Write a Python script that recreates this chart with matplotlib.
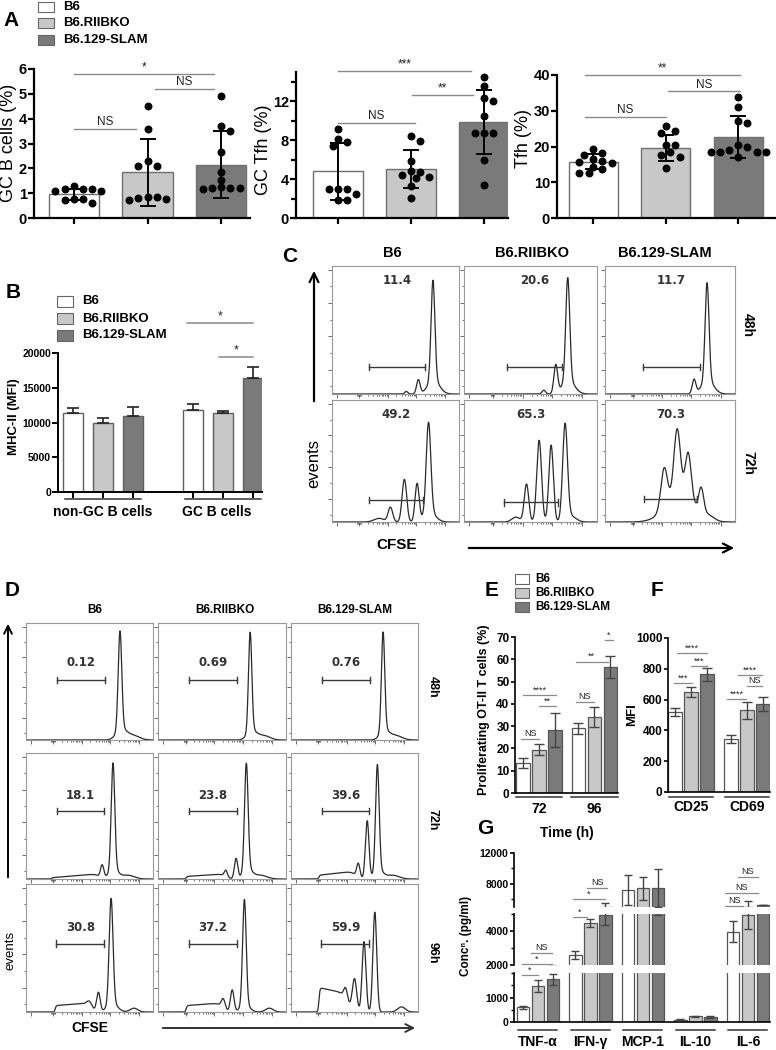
import numpy as np
import matplotlib
matplotlib.use('Agg')
import matplotlib.pyplot as plt
from matplotlib.patches import Rectangle

plt.rcParams['font.family'] = ['Liberation Sans', 'DejaVu Sans']

# ===================== DATA =====================
strains = ['B6', 'B6.RIIBKO', 'B6.129-SLAM']
strain_colors = ['#ffffff', '#c8c8c8', '#7a7a7a']

# ---- Panel A ----
gcb_mean = [0.95, 1.85, 2.15]
gcb_sd = [0.23, 1.35, 1.35]
gcb_points = [[1.27, 1.16, 1.17, 1.15, 1.10, 1.10, 0.78, 0.78, 0.72, 0.60],
              [4.50, 3.60, 2.29, 2.08, 2.08, 0.86, 0.86, 0.79, 0.76, 0.72],
              [4.93, 3.72, 3.52, 2.66, 1.87, 1.53, 1.23, 1.20, 1.20, 1.20, 1.15]]
gcb_sig = [(0.0, 1.9, 5.8, '*'), (1.1, 1.9, 5.2, 'NS'), (0.0, 0.85, 3.6, 'NS')]

gctfh_mean = [4.8, 5.05, 9.9]
gctfh_sd = [2.9, 1.95, 3.3]
gctfh_points = [[9.1, 8.1, 7.8, 7.4, 3.0, 3.0, 3.0, 2.5, 1.85, 1.85],
                [8.4, 7.9, 5.9, 4.8, 4.75, 4.4, 4.2, 4.1, 3.3, 2.1],
                [14.5, 13.6, 12.3, 12.0, 10.5, 8.7, 8.7, 8.7, 6.0, 3.4]]
gctfh_sig = [(0.0, 1.82, 15.1, '***'), (1.01, 1.85, 12.6, '**'), (0.0, 1.05, 9.8, 'NS')]

tfh_mean = [15.8, 19.6, 22.7]
tfh_sd = [2.05, 3.6, 5.9]
tfh_points = [[19.3, 18.1, 17.7, 16.6, 16.0, 15.8, 15.5, 14.4, 13.7, 12.7, 12.6],
              [25.6, 24.2, 23.9, 20.5, 20.3, 18.6, 17.7, 17.2, 14.0],
              [33.8, 31.0, 27.0, 26.7, 20.3, 20.0, 19.1, 18.6, 18.6, 18.6, 18.4, 17.2]]
tfh_sig = [(-0.11, 2.03, 39.9, '**'), (1.03, 2.03, 35.4, 'NS'), (-0.11, 1.0, 28.2, 'NS')]

# ---- Panel B ----
mhc_groups = ['non-GC B cells', 'GC B cells']
mhc_mean = [[11300, 10000, 10950], [11750, 11300, 16400]]
mhc_err = [[750, 700, 1250], [900, 300, 1600]]
mhc_sig = [(3.8, 6.0, 24300, '*'), (4.87, 6.0, 19400, '*')]

# ---- Panel C (CFSE histograms, peaks: centre, height, width) ----
C_times = ['48h', '72h']
C_numbers = [['11.4', '20.6', '11.7'], ['49.2', '65.3', '70.3']]
C_gates = [[(0.29, 0.73, 0.21), (0.32, 0.74, 0.21), (0.29, 0.73, 0.21)],
           [(0.29, 0.72, 0.18), (0.30, 0.71, 0.16), (0.30, 0.71, 0.19)]]
C_peaks = [[[(0.795, 0.78, 0.015), (0.80, 0.11, 0.045), (0.68, 0.11, 0.014), (0.585, 0.02, 0.012)],
            [(0.78, 0.80, 0.015), (0.785, 0.11, 0.045), (0.69, 0.22, 0.014), (0.60, 0.03, 0.013)],
            [(0.785, 0.76, 0.015), (0.79, 0.11, 0.045), (0.685, 0.11, 0.014)]],
           [[(0.76, 0.74, 0.018), (0.77, 0.08, 0.045), (0.67, 0.31, 0.016), (0.57, 0.35, 0.018),
             (0.46, 0.12, 0.018), (0.37, 0.03, 0.04)],
            [(0.76, 0.78, 0.018), (0.655, 0.63, 0.017), (0.565, 0.67, 0.018), (0.47, 0.31, 0.017),
             (0.39, 0.04, 0.03), (0.80, 0.05, 0.04)],
            [(0.555, 0.55, 0.025), (0.455, 0.33, 0.025), (0.64, 0.38, 0.023), (0.74, 0.20, 0.019),
             (0.58, 0.22, 0.11), (0.80, 0.03, 0.04)]]]
C_plateaus = [[None, None, None], [None, None, None]]

# ---- Panel D ----
D_times = ['48h', '72h', '96h']
D_numbers = [['0.12', '0.69', '0.76'], ['18.1', '23.8', '39.6'], ['30.8', '37.2', '59.9']]
D_gates = [[(0.245, 0.62, 0.51)] * 3, [(0.245, 0.615, 0.54)] * 3, [(0.24, 0.615, 0.535)] * 3]
D_peaks = [[[(0.74, 0.84, 0.014), (0.75, 0.09, 0.04), (0.84, 0.04, 0.05)],
            [(0.72, 0.84, 0.013), (0.73, 0.08, 0.035), (0.82, 0.04, 0.05)],
            [(0.725, 0.84, 0.013), (0.735, 0.08, 0.035), (0.82, 0.04, 0.05)]],
           [[(0.685, 0.84, 0.014), (0.69, 0.08, 0.035), (0.60, 0.10, 0.013), (0.80, 0.03, 0.05)],
            [(0.69, 0.84, 0.014), (0.70, 0.08, 0.035), (0.61, 0.16, 0.013), (0.53, 0.05, 0.012),
             (0.80, 0.03, 0.05)],
            [(0.68, 0.84, 0.014), (0.69, 0.07, 0.035), (0.60, 0.46, 0.014), (0.53, 0.11, 0.013),
             (0.80, 0.03, 0.05)]],
           [[(0.67, 0.82, 0.015), (0.68, 0.07, 0.04), (0.57, 0.15, 0.014), (0.50, 0.04, 0.02),
             (0.85, 0.03, 0.03)],
            [(0.675, 0.82, 0.014), (0.68, 0.06, 0.035), (0.58, 0.17, 0.014), (0.51, 0.07, 0.014),
             (0.87, 0.03, 0.03)],
            [(0.66, 0.78, 0.015), (0.575, 0.55, 0.015), (0.50, 0.25, 0.017), (0.43, 0.08, 0.014),
             (0.87, 0.04, 0.03)]]]
D_plateaus = [[None, None, None],
              [(0.2, 0.55, 0.01, 0.04), (0.22, 0.5, 0.02, 0.04), (0.22, 0.48, 0.03, 0.06)],
              [(0.23, 0.48, 0.05, 0.07), (0.22, 0.48, 0.05, 0.07), (0.22, 0.42, 0.19, 0.15)]]

# ---- Panel E ----
time_groups = ['72', '96']
prolif_mean = [[13.5, 19.5, 28.3], [29.0, 34.0, 56.5]]
prolif_err = [[2.3, 2.5, 7.7], [2.5, 4.5, 4.8]]
prolif_sig = [(-0.12, 1.0, 24.2, 'NS'), (0.0, 2.06, 44, '****'), (1.0, 2.06, 39, '**'),
              (3.3, 4.44, 41, 'NS'), (3.3, 5.3, 59, '**'), (5.1, 5.6, 68.6, '*')]

# ---- Panel F ----
markers = ['CD25', 'CD69']
mfi_mean = [[520, 648, 765], [345, 532, 572]]
mfi_err = [[25, 32, 42], [25, 55, 45]]
mfi_sig = [(-0.06, 1.06, 708, '***'), (0.12, 2.0, 903, '****'), (1.0, 2.0, 818, '***'),
           (3.25, 4.44, 604, '****'), (3.94, 5.44, 760, '****'), (4.5, 5.44, 688, 'NS')]

# ---- Panel G ----
cytokines = ['TNF-\u03b1', 'IFN-\u03b3', 'MCP-1', 'IL-10', 'IL-6']
cyt_b6 = [600, 2600, 7200, 100, 3960]
cyt_b6_err = [50, 230, 2000, 15, 600]
cyt_ko = [1470, 4470, 7450, 230, 4940]
cyt_ko_err = [230, 250, 1500, 20, 850]
cyt_slam = [1750, 4940, 7450, 210, 5270]
cyt_slam_err = [220, 600, 2500, 30, 30]
cyt_sig = [(-0.07, 1.0, 1918, '*'), (-0.07, 1.93, 2060, '*'), (0.53, 1.93, 2700, 'NS'),
           (3.33, 4.27, 4820, '*'), (3.33, 5.47, 6030, '*'), (4.27, 5.6, 7450, 'NS'),
           (13.47, 14.67, 5190, 'NS'), (13.47, 15.67, 6800, 'NS'), (14.33, 15.67, 8870, 'NS')]

# ===================== FIGURE =====================
W, H = 776, 1050
fig = plt.figure(figsize=(W / 100, H / 100), dpi=100)


def axpx(l, t, r, b):
    return fig.add_axes([l / W, 1 - b / H, (r - l) / W, (b - t) / H])


def bold_ticks(ax, ticks, fs, fmt='{:g}'):
    ax.set_yticks(ticks, [fmt.format(v) for v in ticks], fontweight='bold', fontsize=fs)


def sig(ax, x0, x1, y, txt, fs, lw=1.0):
    ax.plot([x0, x1], [y, y], color='#8a8a8a', lw=lw, clip_on=False, zorder=5)
    ax.annotate(txt, xy=((x0 + x1) / 2, y), xytext=(0, 0.5), textcoords='offset points',
                ha='center', va='bottom', fontsize=fs, annotation_clip=False, color='#222')


def swarm(vals, ppu_y, ppu_x, d=7.4):
    placed, offs = [], []
    cands = [0.0]
    for i in range(1, 20):
        cands += [i * d * 0.62, -i * d * 0.62]
    for v in vals:
        yv = v * ppu_y
        for c in cands:
            if all((c - px) ** 2 + (yv - py) ** 2 >= d * d for px, py in placed):
                break
        placed.append((c, yv))
        offs.append(c / ppu_x)
    return offs


def style_bar(ax, lw):
    for s in ['top', 'right']:
        ax.spines[s].set_visible(False)
    ax.spines['left'].set_linewidth(lw)
    ax.spines['bottom'].set_linewidth(lw)


# ---------- Panel A ----------
A_specs = [
    ((34, 69, 250, 218), (-0.54, 2.39), (0, 6), list(range(0, 7)), [], gcb_mean, gcb_sd, gcb_points, gcb_sig),
    ((296, 72, 508, 218), (-0.575, 2.33), (0, 15), [0, 4, 8, 12], [2, 6, 10, 14], gctfh_mean, gctfh_sd,
     gctfh_points, gctfh_sig),
    ((557, 75, 776, 218), (-0.5, 2.52), (0, 40), [0, 10, 20, 30, 40], [], tfh_mean, tfh_sd, tfh_points, tfh_sig),
]
for (box, xl, yl, yt, ymin, mean, sd, pts, sg) in A_specs:
    ax = axpx(*box)
    x = np.arange(3)
    ax.bar(x, mean, width=0.68, color=strain_colors, edgecolor='#707070', linewidth=1.0, zorder=2)
    ax.errorbar(x, mean, yerr=sd, fmt='none', ecolor='black', elinewidth=1.4, capsize=5.5,
                capthick=1.4, zorder=3)
    ppu_y = (box[3] - box[1]) / (yl[1] - yl[0])
    ppu_x = (box[2] - box[0]) / (xl[1] - xl[0])
    for i, p in enumerate(pts):
        o = swarm(p, ppu_y, ppu_x)
        ax.plot(i + np.array(o), p, 'o', color='black', ms=4.7, zorder=4, clip_on=False)
    ax.set_xlim(*xl)
    ax.set_ylim(*yl)
    style_bar(ax, 1.6)
    bold_ticks(ax, yt, 10.5)
    ax.set_yticks(ymin, minor=True)
    ax.set_xticks(x, ['', '', ''])
    ax.tick_params(axis='both', which='major', length=4, width=1.6, pad=1)
    ax.tick_params(axis='y', which='minor', length=3.5, width=1.6)
    for (x0, x1, y, t) in sg:
        sig(ax, x0, x1, y, t, 8.5)

# ---------- Panel B ----------
axB = axpx(58, 353, 262, 492)
posB = [np.arange(3), np.arange(3) + 4]
for g in range(2):
    axB.bar(posB[g], mhc_mean[g], width=0.67, color=strain_colors, edgecolor='#606060', lw=1.0, zorder=2)
    axB.errorbar(posB[g], mhc_mean[g], yerr=[[0, 0, 0], mhc_err[g]], fmt='none', ecolor='#222',
                 elinewidth=1.2, capsize=4, capthick=1.2, zorder=3)
axB.set_xlim(-0.5, 6.3)
axB.set_ylim(0, 20000)
style_bar(axB, 1.4)
bold_ticks(axB, [0, 5000, 10000, 15000, 20000], 7.5)
axB.set_xticks(np.concatenate(posB), [''] * 6)
axB.tick_params(axis='both', length=4, width=1.4, pad=1)
for g in range(2):
    c = posB[g].mean()
    axB.plot([c - 1.28, c + 1.28], [-0.05, -0.05], color='#333', lw=1.1,
             transform=axB.get_xaxis_transform(), clip_on=False)
    axB.text(c + (0 if g == 0 else -0.2), -0.145, mhc_groups[g], ha='center', va='center',
             fontsize=10, fontweight='bold', transform=axB.get_xaxis_transform())
for (x0, x1, y, t) in mhc_sig:
    sig(axB, x0, x1, y, t, 9, lw=1.1)


# ---------- Histogram helper ----------
def draw_hist(box, peaks, plateau, gate, number, ny):
    ax = axpx(*box)
    xs = np.linspace(0, 1, 900)
    ys = np.zeros_like(xs)
    for c, h, s in peaks:
        ys += h * np.exp(-0.5 * ((xs - c) / s) ** 2)
    if plateau is not None:
        x0, x1, h0, h1 = plateau
        ramp = h0 + (h1 - h0) * np.clip((xs - x0) / (x1 - x0), 0, 1)
        win = 1 / (1 + np.exp(-(xs - x0) / 0.004)) / (1 + np.exp(-(x1 + 0.03 - xs) / 0.02))
        ys += ramp * win
    ax.plot(xs, ys, color='#2a2a2a', lw=0.9)
    ax.set_xlim(0, 1)
    ax.set_ylim(0, 1)
    for s in ax.spines.values():
        s.set_color('#9a9a9a')
        s.set_linewidth(0.8)
    g0, g1, gy = gate
    ax.plot([g0, g1], [gy, gy], color='#3a3a3a', lw=1.0)
    for gx in (g0, g1):
        ax.plot([gx, gx], [gy - 0.025, gy + 0.025], color='#3a3a3a', lw=1.0)
    ax.text((g0 + g1) / 2, ny, number, ha='center', va='center', fontsize=8.5,
            family='DejaVu Sans', fontweight='bold', color='#333')
    majx = [0.04, 0.215, 0.44, 0.665, 0.89]
    minx = []
    for d in majx[1:-1]:
        minx += [d + 0.225 * np.log10(k) for k in range(2, 10)]
    minx += [0.2, 0.205, 0.21, 0.22, 0.225]
    majy = [0.19, 0.45, 0.71, 0.966]
    miny = [0.06, 0.32, 0.58, 0.84]
    ax.set_xticks(majx)
    ax.set_xticks(minx, minor=True)
    ax.set_yticks(majy)
    ax.set_yticks(miny, minor=True)
    ax.tick_params(which='both', direction='out', color='#555', width=0.6,
                   labelleft=False, labelbottom=False)
    ax.tick_params(which='major', length=3)
    ax.tick_params(which='minor', length=1.6)
    return ax


C_cols = [(332, 459), (464, 597), (605, 735)]
C_rows = [(266, 394), (400, 522)]
for r in range(2):
    for c in range(3):
        draw_hist((C_cols[c][0], C_rows[r][0], C_cols[c][1], C_rows[r][1]),
                  C_peaks[r][c], C_plateaus[r][c], C_gates[r][c], C_numbers[r][c], 0.885)

D_cols = [(26, 153), (158, 286), (291, 418)]
D_rows = [(623, 740), (753, 879), (884, 1012)]
for r in range(3):
    for c in range(3):
        draw_hist((D_cols[c][0], D_rows[r][0], D_cols[c][1], D_rows[r][1]),
                  D_peaks[r][c], D_plateaus[r][c], D_gates[r][c], D_numbers[r][c], 0.66)

# ---------- Panel E ----------
axE = axpx(515, 637, 618, 793)
posE = [np.arange(3), np.arange(3) + 3.47]
for g in range(2):
    axE.bar(posE[g], prolif_mean[g], width=0.85, color=strain_colors, edgecolor='#555', lw=0.9, zorder=2)
    axE.errorbar(posE[g], prolif_mean[g], yerr=prolif_err[g], fmt='none', ecolor='#444',
                 elinewidth=1.0, capsize=3.5, capthick=1.0, zorder=3)
axE.set_xlim(-0.5, 5.94)
axE.set_ylim(0, 70)
style_bar(axE, 1.2)
bold_ticks(axE, list(range(0, 80, 10)), 8.5)
axE.set_xticks([])
axE.tick_params(axis='y', length=3, width=1.2, pad=1)
for g in range(2):
    c = posE[g].mean()
    axE.plot([c - 1.44, c + 1.44], [-0.026, -0.026], color='#333', lw=1.1,
             transform=axE.get_xaxis_transform(), clip_on=False)
    axE.text(c, -0.105, time_groups[g], ha='center', va='center', fontsize=10, fontweight='bold',
             transform=axE.get_xaxis_transform())
for (x0, x1, y, t) in prolif_sig:
    sig(axE, x0, x1, y, t, 6.5, lw=0.9)

# ---------- Panel F ----------
axF = axpx(668, 638, 770, 792)
posF = [np.arange(3), np.arange(3) + 3.5]
for g in range(2):
    axF.bar(posF[g], mfi_mean[g], width=0.85, color=strain_colors, edgecolor='#555', lw=0.9, zorder=2)
    axF.errorbar(posF[g], mfi_mean[g], yerr=mfi_err[g], fmt='none', ecolor='#444',
                 elinewidth=1.0, capsize=3.5, capthick=1.0, zorder=3)
axF.set_xlim(-0.44, 5.94)
axF.set_ylim(0, 1000)
style_bar(axF, 1.2)
bold_ticks(axF, list(range(0, 1200, 200)), 8.5)
axF.set_xticks([])
axF.tick_params(axis='y', length=3, width=1.2, pad=1)
for g in range(2):
    c = posF[g].mean()
    axF.plot([c - 1.4, c + 1.4], [-0.032, -0.032], color='#333', lw=1.1,
             transform=axF.get_xaxis_transform(), clip_on=False)
    axF.text(c, -0.1, markers[g], ha='center', va='center', fontsize=10, fontweight='bold',
             transform=axF.get_xaxis_transform())
for (x0, x1, y, t) in mfi_sig:
    sig(axF, x0, x1, y, t, 6.5, lw=0.9)

# ---------- Panel G (broken axis) ----------
G_boxes = [(514, 973, 770, 1022), (514, 914, 770, 965), (514, 853, 770, 907)]
G_ranges = [(0, 2000), (2000, 5000), (5000, 12000)]
G_major = [[0, 1000], [2000, 4000], [8000, 12000]]
G_minor = [[500, 1500, 2000], [3000, 5000], [6000, 10000]]
posG = np.arange(5) * 3.5
series = [(cyt_b6, cyt_b6_err), (cyt_ko, cyt_ko_err), (cyt_slam, cyt_slam_err)]
G_axes = []
for k in range(3):
    ax = axpx(*G_boxes[k])
    for j, (vals, errs) in enumerate(series):
        ax.bar(posG + j, vals, width=0.85, color=strain_colors[j], edgecolor='#555', lw=0.9, zorder=2)
        ax.errorbar(posG + j, vals, yerr=errs, fmt='none', ecolor='#444', elinewidth=1.0,
                    capsize=3, capthick=1.0, zorder=3)
    ax.set_xlim(-0.6, 16.47)
    ax.set_ylim(*G_ranges[k])
    for s in ['top', 'right']:
        ax.spines[s].set_visible(False)
    ax.spines['left'].set_linewidth(1.2)
    if k == 0:
        ax.spines['bottom'].set_linewidth(1.2)
    else:
        ax.spines['bottom'].set_visible(False)
    bold_ticks(ax, G_major[k], 7.5)
    ax.set_yticks(G_minor[k], minor=True)
    ax.set_xticks([])
    ax.tick_params(axis='y', which='major', length=3, width=1.2, pad=1)
    ax.tick_params(axis='y', which='minor', length=2, width=1.0)
    G_axes.append(ax)
axG = G_axes[0]
for g in range(5):
    c = posG[g] + 1
    axG.plot([c - 1.3, c + 1.3], [-0.163, -0.163], color='#333', lw=1.1,
             transform=axG.get_xaxis_transform(), clip_on=False)
    axG.text(c, -0.41, cytokines[g], ha='center', va='center', fontsize=10, fontweight='bold',
             transform=axG.get_xaxis_transform())
for (x0, x1, y, t) in cyt_sig:
    k = 0 if y <= 2000 else (1 if y <= 5000 else 2)
    sig(G_axes[k], x0, x1, y, t, 6.5, lw=0.9)

# ---------- Overlay: labels, legends, arrows ----------
ov = axpx(0, 0, W, H)
ov.set_xlim(0, W)
ov.set_ylim(H, 0)
ov.axis('off')
ov.patch.set_alpha(0)


def txt(x, y, s, **kw):
    kw.setdefault('ha', 'center')
    kw.setdefault('va', 'center')
    ov.text(x, y, s, **kw)


for lab, (x, y) in zip('ABCDEFG', [(11, 20), (13, 293), (290, 257), (12, 591), (492, 591), (657, 591),
                                   (485, 828)]):
    txt(x, y, lab, fontsize=15, fontweight='bold')


def legend(x, ys, w, h, tx, fs):
    for y, col, s in zip(ys, strain_colors, strains):
        ov.add_patch(Rectangle((x, y - h / 2), w, h, facecolor=col, edgecolor='#666', lw=0.8))
        ov.text(tx, y, s, ha='left', va='center', fontsize=fs, fontweight='bold')


legend(38, [7, 23, 40], 16, 10, 63, 9.5)
legend(57, [301.5, 318.5, 335.5], 16, 11, 82, 9.5)
legend(515, [579, 593, 607], 14, 10, 535, 8.5)

# axis titles
txt(9, 143, 'GC B cells (%)', rotation=90, fontsize=13)
txt(264, 150, 'GC Tfh (%)', rotation=90, fontsize=13)
txt(524, 139, 'Tfh (%)', rotation=90, fontsize=13)
txt(14, 417, 'MHC-II (MFI)', rotation=90, fontsize=9.5, fontweight='bold')
txt(484, 710, 'Proliferating OT-II T cells (%)', rotation=90, fontsize=9, fontweight='bold')
txt(567, 833, 'Time (h)', fontsize=10, fontweight='bold')
txt(632, 715, 'MFI', rotation=90, fontsize=9.5, fontweight='bold')
txt(466, 936, 'Conc\u207f. (pg/ml)', rotation=90, fontsize=8.5, fontweight='bold')

# Panel C titles
for s, x in zip(strains, [392, 532, 665]):
    txt(x, 253, s, fontsize=10.5, fontweight='bold')
for s, y in zip(C_times, [325, 463]):
    txt(748, y, s, rotation=-90, fontsize=10, fontweight='bold')
ov.annotate('', xy=(314, 268), xytext=(314, 404),
            arrowprops=dict(arrowstyle='->', lw=1.6, color='black', mutation_scale=16))
txt(314, 463, 'events', rotation=90, fontsize=12)
txt(397, 545, 'CFSE', fontsize=11, fontweight='bold')
ov.annotate('', xy=(737, 548), xytext=(466, 548),
            arrowprops=dict(arrowstyle='->', lw=1.6, color='black', mutation_scale=16))

# Panel D titles
for s, x in zip(strains, [95, 225, 355]):
    txt(x, 610, s, fontsize=8.5, fontweight='bold')
for s, y in zip(D_times, [687, 820, 953]):
    txt(433, y, s, rotation=-90, fontsize=9, fontweight='bold')
ov.annotate('', xy=(8, 621), xytext=(8, 880),
            arrowprops=dict(arrowstyle='->', lw=1.4, color='black', mutation_scale=14))
txt(10, 950, 'events', rotation=90, fontsize=9.5)
txt(90, 1028, 'CFSE', fontsize=10, fontweight='bold')
ov.annotate('', xy=(418, 1028), xytext=(160, 1028),
            arrowprops=dict(arrowstyle='->', lw=1.4, color='#333', mutation_scale=14))

fig.savefig('out.png', dpi=100)
